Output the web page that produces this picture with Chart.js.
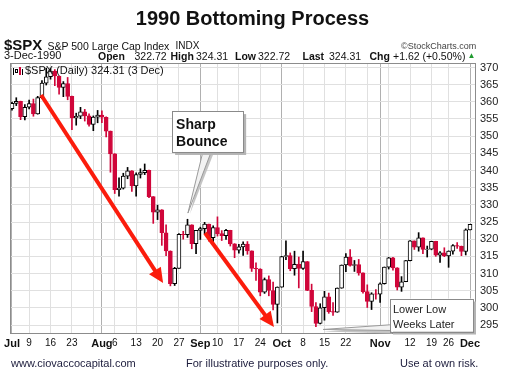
<!DOCTYPE html>
<html><head><meta charset="utf-8">
<script src="https://cdn.jsdelivr.net/npm/chart.js@4.4.1/dist/chart.umd.min.js"></script>
<style>
html,body{margin:0;padding:0;background:#fff;}
#wrap{position:relative;width:505px;height:380px;overflow:hidden;font-family:"Liberation Sans",Arial,Helvetica,sans-serif;color:#111;}
#c{position:absolute;left:0;top:0;}
.t{position:absolute;white-space:nowrap;line-height:1;}
.b{font-weight:bold;}
</style></head><body>
<div id="wrap">
<canvas id="c" width="505" height="380"></canvas>
<div class="t b" style="left:0;width:505px;text-align:center;top:7.6px;font-size:20px;">1990 Bottoming Process</div>
<div class="t b" style="left:4px;top:36.8px;font-size:15px;">$SPX</div>
<div class="t" style="left:47.5px;top:40.6px;font-size:10.5px;">S&amp;P 500 Large Cap Index</div>
<div class="t" style="left:175.5px;top:41px;font-size:10px;">INDX</div>
<div class="t" style="left:401px;top:41.9px;font-size:9px;color:#444;">©StockCharts.com</div>
<div class="t" style="left:4px;top:50.2px;font-size:11px;">3-Dec-1990</div>
<div class="t b" style="left:98px;top:50.6px;font-size:10.5px;">Open</div>
<div class="t" style="left:134.5px;top:50.6px;font-size:10.5px;">322.72</div>
<div class="t b" style="left:170.5px;top:50.6px;font-size:10.5px;">High</div>
<div class="t" style="left:196px;top:50.6px;font-size:10.5px;">324.31</div>
<div class="t b" style="left:235px;top:50.6px;font-size:10.5px;">Low</div>
<div class="t" style="left:258px;top:50.6px;font-size:10.5px;">322.72</div>
<div class="t b" style="left:302.5px;top:50.6px;font-size:10.5px;">Last</div>
<div class="t" style="left:329px;top:50.6px;font-size:10.5px;">324.31</div>
<div class="t b" style="left:369.5px;top:50.6px;font-size:10.5px;">Chg</div>
<div class="t" style="left:393px;top:50.6px;font-size:10.5px;">+1.62 (+0.50%)</div>
<div class="t" style="left:467.5px;top:52px;font-size:8px;color:#1f9a2f;">▲</div>
<div class="t" style="left:25px;top:65.2px;font-size:11px;">$SPX (Daily) 324.31 (3 Dec)</div>
<div class="t" style="left:11px;top:357.7px;font-size:11px;color:#1c1c3c;">www.ciovaccocapital.com</div>
<div class="t" style="left:186px;top:357.7px;font-size:11px;color:#1c1c3c;">For illustrative purposes only.</div>
<div class="t" style="left:400px;top:357.7px;font-size:11px;color:#1c1c3c;">Use at own risk.</div>
</div>
<script>
// ---- data (S&P 500 daily, Jul 2 - Dec 3 1990) ----
const dates = ['7/2','7/3','7/5','7/6','7/9','7/10','7/11','7/12','7/13','7/16','7/17','7/18','7/19','7/20','7/23','7/24','7/25','7/26','7/27','7/30','7/31',
'8/1','8/2','8/3','8/6','8/7','8/8','8/9','8/10','8/13','8/14','8/15','8/16','8/17','8/20','8/21','8/22','8/23','8/24','8/27','8/28','8/29','8/30','8/31',
'9/4','9/5','9/6','9/7','9/10','9/11','9/12','9/13','9/14','9/17','9/18','9/19','9/20','9/21','9/24','9/25','9/26','9/27','9/28',
'10/1','10/2','10/3','10/4','10/5','10/8','10/9','10/10','10/11','10/12','10/15','10/16','10/17','10/18','10/19','10/22','10/23','10/24','10/25','10/26','10/29','10/30','10/31',
'11/1','11/2','11/5','11/6','11/7','11/8','11/9','11/12','11/13','11/14','11/15','11/16','11/19','11/20','11/21','11/23','11/26','11/27','11/28','11/29','11/30',
'12/3'];
const open = [358.02,359.54,360.16,355.68,358.42,359.52,356.49,361.23,365.44,367.31,368.95,367.52,364.22,365.32,361.61,355.31,355.79,357.09,355.91,353.44,355.55,
356.15,355.52,351.48,344.86,334.43,334.83,338.35,339.94,335.52,338.84,339.39,340.06,332.39,327.83,328.51,321.86,316.55,307.06,311.51,321.44,321.34,324.19,318.71,
322.56,323.09,324.39,320.46,323.40,321.63,321.04,322.54,318.65,316.83,317.77,318.60,316.60,311.48,311.32,304.59,308.26,305.06,300.97,
306.05,314.94,315.21,311.40,312.69,311.50,313.48,305.10,300.39,295.46,300.03,303.23,298.92,298.76,305.74,312.48,314.76,312.36,312.60,310.17,304.71,301.88,304.06,
304.00,307.02,311.85,314.59,311.62,306.01,307.61,313.74,319.48,317.67,320.40,317.02,317.12,319.34,315.31,316.03,315.10,316.51,318.10,317.95,316.42,
322.72];
const high = [359.9,361.2,360.2,359.2,360.5,360.8,361.6,366.2,369.8,369.8,369.4,367.5,365.9,367.1,361.7,356.7,358.4,357.8,356.5,355.9,357.5,
357.4,355.6,351.5,344.9,337.9,339.2,340.9,340.0,339.3,340.5,341.9,340.1,332.4,329.9,328.6,324.2,316.6,311.8,321.6,322.3,325.8,324.2,322.6,
323.5,324.9,324.4,323.9,326.5,322.5,322.9,322.6,318.7,318.5,319.2,319.3,316.6,313.1,311.4,308.7,309.3,307.5,306.1,
315.0,319.5,316.0,316.5,314.8,316.5,313.5,306.9,301.5,301.2,304.8,304.3,301.5,305.8,312.5,315.8,317.0,313.8,314.1,310.2,306.7,304.4,305.3,
307.3,311.9,314.7,314.7,311.7,309.1,313.8,319.6,319.5,321.9,320.4,318.0,319.4,319.4,316.4,317.5,316.6,318.4,319.0,318.0,323.0,
324.31];
const low = [357.6,358.9,354.8,354.7,357.9,355.8,356.4,360.9,364.9,366.6,364.7,362.2,361.5,360.6,351.9,353.2,355.1,354.4,352.9,351.6,353.9,
353.9,349.8,339.5,333.3,332.5,334.6,337.6,333.9,332.5,337.8,338.8,332.1,324.6,325.7,318.2,315.2,306.4,306.5,311.5,320.0,320.5,317.2,315.8,
319.9,321.6,319.4,318.9,320.9,319.6,319.9,318.0,314.6,315.9,315.3,315.6,310.6,308.0,303.5,304.2,303.5,299.4,295.6,
306.0,314.0,310.8,309.5,305.8,311.2,305.0,298.9,294.5,295.3,296.4,298.4,297.8,298.7,305.7,310.5,312.1,310.6,309.5,304.3,300.1,299.5,302.5,
301.6,306.9,311.3,311.0,305.2,304.8,307.6,313.7,317.0,316.5,315.8,314.8,316.9,315.0,313.2,314.9,311.8,315.6,317.3,315.2,315.4,
322.72];
const close = [359.54,360.16,355.68,358.42,359.52,356.49,361.23,365.44,367.31,368.95,367.52,364.22,365.32,361.61,355.31,355.79,357.09,355.91,353.44,355.55,356.15,
355.52,351.48,344.86,334.43,334.83,338.35,339.94,335.52,338.84,339.39,340.06,332.39,327.83,328.51,321.86,316.55,307.06,311.51,321.44,321.34,324.19,318.71,322.56,
323.09,324.39,320.46,323.40,321.63,321.04,322.54,318.65,316.83,317.77,318.60,316.60,311.48,311.32,304.59,308.26,305.06,300.97,306.05,
314.94,315.21,311.40,312.69,311.50,313.48,305.10,300.39,295.46,300.03,303.23,298.92,298.76,305.74,312.48,314.76,312.36,312.60,310.17,304.71,301.88,304.06,304.00,
307.02,311.85,314.59,311.62,306.01,307.61,313.74,319.48,317.67,320.40,317.02,317.12,319.34,315.31,316.03,315.10,316.51,318.10,317.95,316.42,322.69,
324.31];
// tick labels (x) and y ticks
const tickDates = ['7/2','7/9','7/16','7/23','7/30','8/1','8/6','8/13','8/20','8/27','9/4','9/10','9/17','9/24','10/1','10/8','10/15','10/22','10/29','11/1','11/5','11/12','11/19','11/26','12/3'];
const tickText  = ['Jul','9','16','23','','Aug','6','13','20','27','Sep','10','17','24','Oct','8','15','22','','Nov','','12','19','26','Dec'];
const yTicks = [295,300,305,310,315,320,325,330,335,340,345,350,355,360,365,370];

// ---- annotations (data space: [index, value]) ----
const arrows = [ {from:[6.8,362.0], to:[35.3,307.2]}, {from:[45.1,321.8], to:[61.2,294.4]} ];

const RED = '#d0063a', BLACK = '#000000', ARROW = '#fb1c0c';
Chart.defaults.font.family = '"Liberation Sans", Arial, Helvetica, sans-serif';

const N = dates.length;
const lineCol = [], bodyFill = [];
for (let i = 0; i < N; i++) {
  const prev = i ? close[i-1] : open[i];
  const c = close[i] < prev ? RED : BLACK;
  lineCol.push(c);
  bodyFill.push(close[i] < open[i] ? c : '#ffffff');
}
const tickIdx = tickDates.map(d => dates.indexOf(d));
const tickMap = {}; tickIdx.forEach((v, k) => tickMap[v] = tickText[k]);
const isMonth = v => /^[A-Z]/.test(tickMap[v] || '');

function drawArrow(ctx, x1, y1, x2, y2) {
  const ang = Math.atan2(y2 - y1, x2 - x1), L = 15, W = 7;
  const bx = x2 - L * Math.cos(ang), by = y2 - L * Math.sin(ang);
  ctx.strokeStyle = ARROW; ctx.fillStyle = ARROW; ctx.lineWidth = 4; ctx.lineCap = 'butt';
  ctx.beginPath(); ctx.moveTo(x1, y1); ctx.lineTo(bx + 2*Math.cos(ang), by + 2*Math.sin(ang)); ctx.stroke();
  ctx.beginPath(); ctx.moveTo(x2, y2);
  ctx.lineTo(bx + W * Math.sin(ang), by - W * Math.cos(ang));
  ctx.lineTo(bx - W * Math.sin(ang), by + W * Math.cos(ang));
  ctx.closePath(); ctx.fill();
}
function tri(ctx, p, fill, stroke) {
  ctx.beginPath(); ctx.moveTo(p[0][0], p[0][1]); ctx.lineTo(p[1][0], p[1][1]); ctx.lineTo(p[2][0], p[2][1]); ctx.closePath();
  ctx.fillStyle = fill; ctx.fill(); if (stroke) { ctx.strokeStyle = stroke; ctx.lineWidth = 1; ctx.stroke(); }
}
function box(ctx, l, t, r, b) {
  ctx.fillStyle = '#b4b4b4'; ctx.fillRect(l + 3, t + 3, r - l, b - t);
  ctx.fillStyle = '#ffffff'; ctx.fillRect(l, t, r - l, b - t);
  ctx.strokeStyle = '#8a8a8a'; ctx.lineWidth = 1; ctx.strokeRect(Math.round(l) + 0.5, Math.round(t) + 0.5, Math.round(r - l), Math.round(b - t));
}

const annot = {
  id: 'annot',
  afterDatasetsDraw(chart) {
    const {ctx, chartArea: a, scales: {x, y}} = chart;
    const X = v => x.getPixelForValue(v), Y = v => y.getPixelForValue(v);
    ctx.save();
    // plot frame
    ctx.strokeStyle = '#8c8c8c'; ctx.lineWidth = 1;
    ctx.strokeRect(a.left + 0.5, a.top + 0.5, a.right - a.left - 1, a.bottom - a.top - 1);
    // legend icon
    ctx.fillStyle = BLACK; ctx.fillRect(a.left + 3, a.top + 5, 1, 7); ctx.strokeStyle = BLACK; ctx.strokeRect(a.left + 5.5, a.top + 6.5, 2, 3);
    ctx.fillStyle = RED; ctx.fillRect(a.left + 9, a.top + 4, 2, 8); ctx.fillStyle = BLACK; ctx.fillRect(a.left + 12, a.top + 6, 1, 6);
    // arrows
    arrows.forEach(ar => drawArrow(ctx, X(ar.from[0]), Y(ar.from[1]), X(ar.to[0]), Y(ar.to[1])));
    // "Sharp Bounce" callout
    let l = X(37.4), t = Y(357.3), r = X(54.0), b = Y(345.4);
    const tip1 = [X(41.1), Y(327.6)];
    tri(ctx, [[X(44.7) + 3, b - 2], [X(46.7) + 3, b - 2], [tip1[0] + 2, tip1[1] + 1]], '#c4c4c4');
    tri(ctx, [[X(44.7), b - 2], [X(46.7), b - 2], tip1], '#f2f2f2', '#9a9a9a');
    box(ctx, l, t, r, b);
    ctx.fillStyle = '#111'; ctx.font = 'bold 14px "Liberation Sans", Arial, sans-serif'; ctx.textBaseline = 'alphabetic'; ctx.textAlign = 'left';
    ctx.fillText('Sharp', l + 4, t + 17.6); ctx.fillText('Bounce', l + 4, t + 35.3);
    // "Lower Low Weeks Later" callout
    l = X(88.3); t = Y(302.7); r = X(107.7); b = Y(293.1);
    const tip2 = [X(72.7), Y(293.7)];
    tri(ctx, [[l + 2, Y(295.1) + 2], [l + 2, b + 2], [tip2[0], tip2[1] + 2]], '#c4c4c4');
    tri(ctx, [[l + 2, Y(295.1)], [l + 2, b - 1], tip2], '#f2f2f2', '#9a9a9a');
    box(ctx, l, t, r, b);
    ctx.fillStyle = '#222'; ctx.font = '11px "Liberation Sans", Arial, sans-serif';
    ctx.fillText('Lower Low', l + 3, t + 14.4); ctx.fillText('Weeks Later', l + 3, t + 29);
    ctx.restore();
  }
};

new Chart(document.getElementById('c'), {
  type: 'bar',
  data: {
    datasets: [
      { label: 'range', data: dates.map((d, i) => ({x: i, y: [low[i], high[i]]})), backgroundColor: lineCol,
        borderWidth: 0, barThickness: 1, grouped: false, order: 2 },
      { label: 'body', data: dates.map((d, i) => ({x: i, y: [open[i], close[i]]})), backgroundColor: bodyFill,
        borderColor: lineCol, borderWidth: 1, borderSkipped: false, barThickness: 4, grouped: false, order: 1 }
    ]
  },
  options: {
    responsive: false, animation: false, events: [],
    layout: { padding: { top: 63, left: 10, right: 0, bottom: 0 } },
    plugins: { legend: { display: false }, tooltip: { enabled: false } },
    scales: {
      x: {
        type: 'linear', min: -0.467, max: 108.4, offset: false,
        afterBuildTicks: s => { s.ticks = tickIdx.map(v => ({value: v})); },
        afterFit: s => { s.height = 46; },
        ticks: {
          autoSkip: false, maxRotation: 0, minRotation: 0, padding: 3, color: '#111',
          font: ctx => (ctx.tick && isMonth(ctx.tick.value)) ? {size: 11, weight: 'bold'} : {size: 10},
          callback: v => tickMap[v] !== undefined ? tickMap[v] : ''
        },
        grid: { color: ctx => (ctx.tick && isMonth(ctx.tick.value)) ? '#b0b0b0' : '#e0e0e0', drawTicks: false, offset: false },
        border: { display: false }
      },
      y: {
        type: 'linear', position: 'right', min: 292.38, max: 371.31,
        afterBuildTicks: s => { s.ticks = yTicks.map(v => ({value: v})); },
        afterFit: s => { s.width = 29; },
        ticks: { padding: 4, color: '#222', font: {size: 11}, callback: v => String(v) },
        grid: { color: '#e0e0e0', drawTicks: false },
        border: { display: false }
      }
    }
  },
  plugins: [annot]
});
</script>
</body></html>
